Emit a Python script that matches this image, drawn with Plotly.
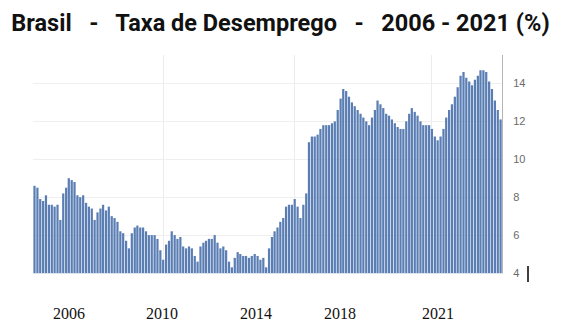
import pandas as pd
import plotly.graph_objects as go

# Monthly unemployment rate (%), Mar 2008 .. Oct 2021
start_month = "2008-03-01"
rate_2008 = [8.6, 8.5, 7.9, 7.8, 8.1, 7.6, 7.6, 7.5, 7.6, 6.8]
rate_2009 = [8.2, 8.5, 9.0, 8.9, 8.8, 8.1, 8.0, 8.1, 7.7, 7.5, 7.4, 6.8]
rate_2010 = [7.2, 7.4, 7.6, 7.3, 7.5, 7.0, 6.9, 6.7, 6.2, 6.1, 5.7, 5.3]
rate_2011 = [6.1, 6.4, 6.5, 6.4, 6.4, 6.2, 6.0, 6.0, 6.0, 5.8, 5.2, 4.7]
rate_2012 = [5.5, 5.7, 6.2, 6.0, 5.8, 5.9, 5.4, 5.3, 5.4, 5.3, 4.9, 4.6]
rate_2013 = [5.4, 5.6, 5.7, 5.8, 5.8, 6.0, 5.6, 5.3, 5.4, 5.2, 4.6, 4.3]
rate_2014 = [4.8, 5.1, 5.0, 4.9, 4.9, 4.8, 4.9, 5.0, 4.9, 4.7, 4.8, 4.3]
rate_2015 = [5.3, 5.9, 6.2, 6.4, 6.7, 6.9, 7.5, 7.6, 7.6, 7.9, 7.5, 6.9]
rate_2016 = [7.6, 8.2, 10.9, 11.2, 11.2, 11.3, 11.6, 11.8, 11.8, 11.8, 11.9, 12.0]
rate_2017 = [12.6, 13.2, 13.7, 13.6, 13.3, 13.0, 12.8, 12.6, 12.4, 12.2, 12.0, 11.8]
rate_2018 = [12.2, 12.6, 13.1, 12.9, 12.7, 12.4, 12.3, 12.1, 11.9, 11.7, 11.6, 11.6]
rate_2019 = [12.0, 12.4, 12.7, 12.5, 12.3, 12.0, 11.8, 11.8, 11.8, 11.6, 11.2, 11.0]
rate_2020 = [11.2, 11.6, 12.2, 12.6, 12.9, 13.3, 13.8, 14.4, 14.6, 14.3, 14.1, 13.9]
rate_2021 = [14.2, 14.4, 14.7, 14.7, 14.6, 14.1, 13.7, 13.1, 12.6, 12.1]

y_ticks = [4, 6, 8, 10, 12, 14]
year_labels = ["2006", "2010", "2014", "2018", "2021"]
grid_dates = ["2011-12-05", "2015-10-01", "2019-10-01"]

rates = (rate_2008 + rate_2009 + rate_2010 + rate_2011 + rate_2012 + rate_2013 +
         rate_2014 + rate_2015 + rate_2016 + rate_2017 + rate_2018 + rate_2019 +
         rate_2020 + rate_2021)
months = pd.date_range(start_month, periods=len(rates), freq="MS")

W, H = 561, 336
L, R, T, B = 33, 59, 55, 63
pw = W - L - R
ph = H - T - B

fig = go.Figure()
fig.add_trace(go.Bar(
    x=months, y=rates,
    marker=dict(color="#5a7eb3", line=dict(width=0)),
    hoverinfo="x+y",
))

fig.update_layout(
    width=W, height=H,
    margin=dict(l=L, r=R, t=T, b=B),
    paper_bgcolor="white", plot_bgcolor="white",
    bargap=0.15,
    showlegend=False,
    title=dict(
        text="<b>Brasil\u00a0\u00a0 -\u00a0\u00a0 Taxa de Desemprego\u00a0\u00a0 -\u00a0\u00a0 2006 - 2021 (%)</b>",
        font=dict(family="Roboto", size=23.5, color="#111"),
        x=0.5, xanchor="center", xref="container",
        y=1 - 23 / H, yanchor="middle", yref="container",
    ),
    xaxis=dict(
        type="date",
        range=["2008-02-14", "2021-10-16"],
        tickvals=grid_dates,
        showticklabels=False,
        ticks="",
        showgrid=True, gridcolor="#ececec", gridwidth=1,
        showline=True, linecolor="#dde3ea", linewidth=1,
        zeroline=False,
    ),
    yaxis=dict(
        side="right",
        range=[4, 15.5],
        tickvals=y_ticks,
        ticks="", ticklabelstandoff=8,
        tickfont=dict(family="Liberation Sans", size=11, color="#6a6a6a"),
        showgrid=True, gridcolor="#efefef", gridwidth=1,
        showline=True, linecolor="#b5b5b5", linewidth=1, mirror=False,
        zeroline=False,
    ),
)

# Year labels below the chart (as in the reference image)
label_px = [69, 162, 256, 340, 438]
for lab, px in zip(year_labels, label_px):
    fig.add_annotation(
        text=lab, xref="paper", yref="paper",
        x=(px - L) / pw, y=(H - B - 313) / ph,
        xanchor="center", yanchor="middle", showarrow=False,
        font=dict(family="Liberation Serif", size=16, color="#111"),
    )

# small black vertical mark at right of the axis
fig.add_shape(type="line", xref="paper", yref="paper",
              x0=(528 - L) / pw, x1=(528 - L) / pw,
              y0=(H - B - 266) / ph, y1=(H - B - 282) / ph,
              line=dict(color="black", width=1.5))

fig.write_html("out.html")
